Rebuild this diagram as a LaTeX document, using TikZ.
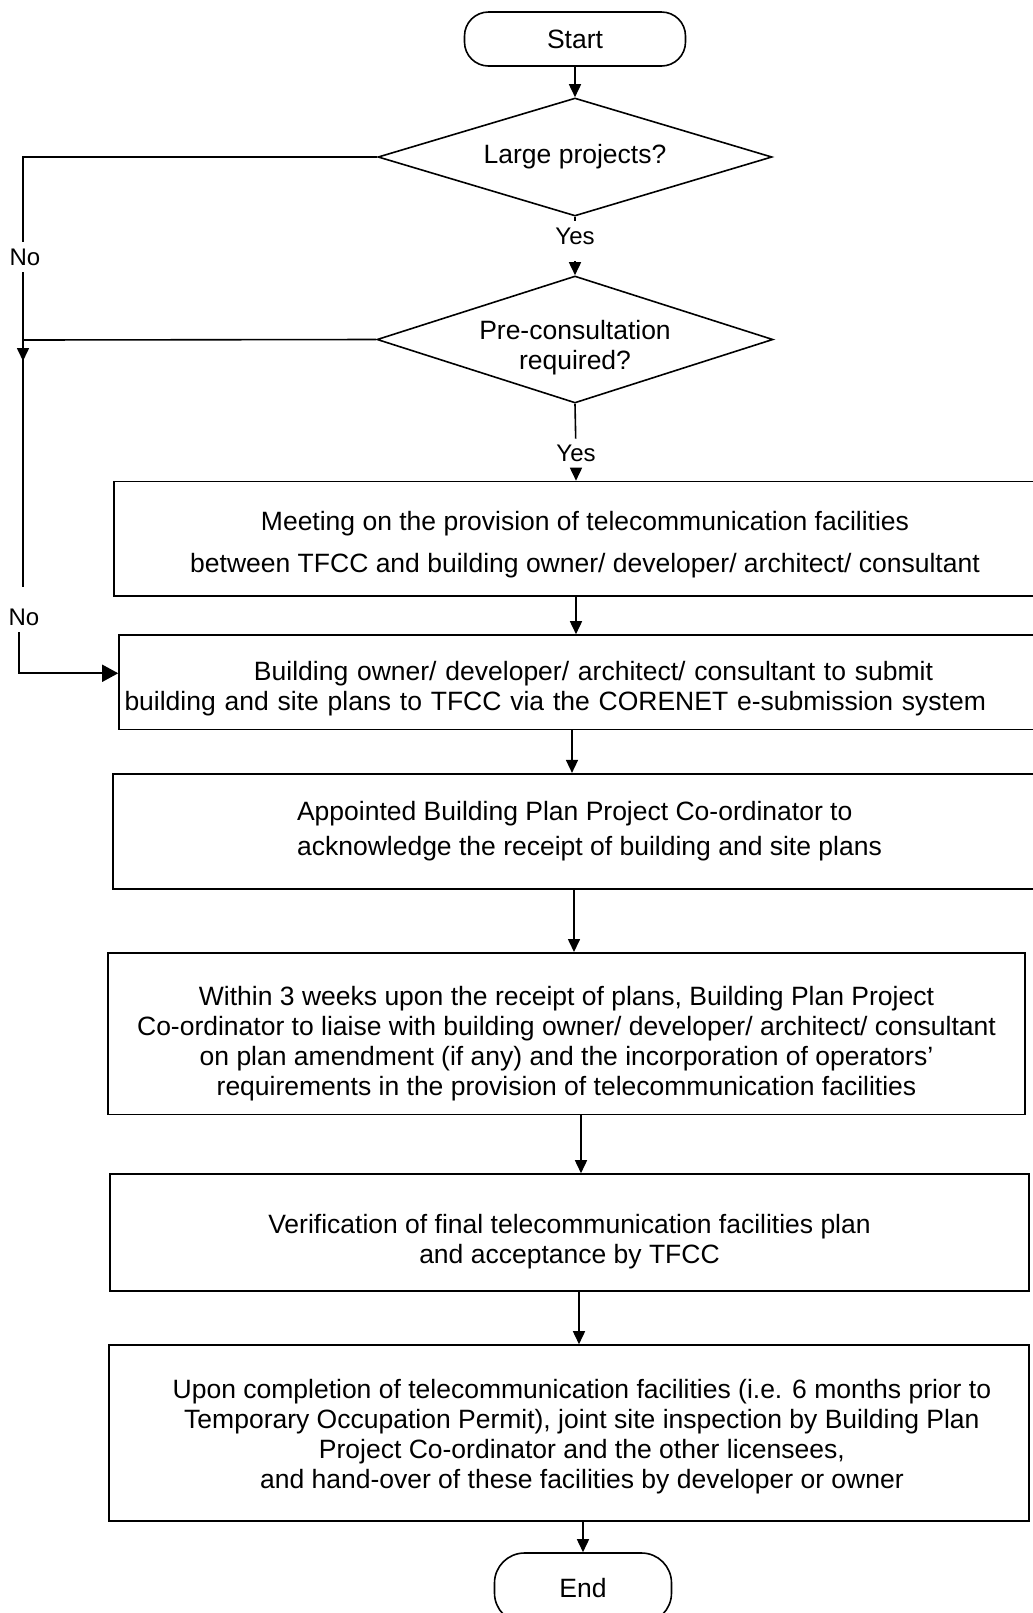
\documentclass[tikz,border=0pt]{standalone}
\usepackage{fontspec}
\setmainfont{Liberation Sans}
\usetikzlibrary{arrows.meta,positioning,shapes.geometric}

\begin{document}
\begin{tikzpicture}[x=0.5pt,y=-0.5pt,font=\fontsize{13.25}{15}\selectfont,
    line width=0.8pt,>={Triangle[length=6.5pt,width=6pt]},
    terminal/.style={draw,rounded corners=12pt,inner sep=0pt},
    decision/.style={draw,diamond,aspect=3.2,inner sep=0pt,align=center},
    process/.style={draw,inner sep=0pt},
    lbl/.style={font=\fontsize{12}{14}\selectfont,inner sep=3pt}]
  \useasboundingbox (0,0) rectangle (1033,1613);

  \node[terminal,minimum width=110.5pt,minimum height=27pt] (start) at (575,39) {Start};
  \node[decision,minimum width=197pt,minimum height=59pt] (large) at (575,157) {Large projects?};
  \node[lbl] (yes1) at (575,236) {Yes};
  \node[decision,minimum width=198pt,minimum height=63.5pt,inner ysep=-4.1pt] (precon) at (575,339.5)
    {\rule{0pt}{17.9pt}Pre-consultation\\required?};
  \node[lbl] (yes2) at (576,453.7) {Yes};

  \node[process,minimum width=471pt,minimum height=57.25pt,align=center] (meet) at (585,538.75)
    {\rule{0pt}{15.4pt}Meeting on the provision of telecommunication facilities\\[6pt]
     between TFCC and building owner/ developer/ architect/ consultant};
  \node[process,minimum width=463pt,minimum height=47.25pt,text width=457.5pt,align=left] (submit) at (582,682.25)
    {\rule{0pt}{15.9pt}\hspace*{64.75pt}Building owner/ developer/ architect/ consultant to submit\\
     building and site plans to TFCC via the CORENET e-submission system};
  \node[process,minimum width=476.5pt,minimum height=57.65pt,align=left] (ack) at (589.5,831.35)
    {Appointed Building Plan Project Co-ordinator to\\[2.5pt]
     acknowledge the receipt of building and site plans};
  \node[process,minimum width=458.5pt,minimum height=80.75pt,align=center] (liaise) at (566.5,1033.55)
    {\rule{0pt}{20pt}Within 3 weeks upon the receipt of plans, Building Plan Project\\
     Co-ordinator to liaise with building owner/ developer/ architect/ consultant\\
     on plan amendment (if any) and the incorporation of operators’\\
     requirements in the provision of telecommunication facilities};
  \node[process,minimum width=459.5pt,minimum height=58.5pt,align=center] (verify) at (569.5,1232.5)
    {\rule{0pt}{19pt}Verification of final telecommunication facilities plan\\
     and acceptance by TFCC};
  \node[process,minimum width=460pt,minimum height=87.85pt,align=center] (handover) at (569,1432.85)
    {\rule{0pt}{13.3pt}\hspace*{12.9pt}Upon completion of telecommunication facilities (i.e. 6 months prior to\\
     \hspace*{12.9pt}Temporary Occupation Permit), joint site inspection by Building Plan\\
     \hspace*{12.9pt}Project Co-ordinator and the other licensees,\\
     \hspace*{12.9pt}and hand-over of these facilities by developer or owner};
  \node[terminal,minimum width=88.5pt,minimum height=35pt,rounded corners=15pt] (end) at (583,1588) {End};

  % main flow
  \draw[->] (start) -- (large);
  \draw (large.south) -- (yes1);
  \draw[->,shorten <=5pt] (yes1) -- (precon);
  \draw (precon.south) -- (yes2);
  \draw[->] (yes2) -- (meet.north -| yes2);
  \coordinate (a1) at ([xshift=-4.5pt]meet.south);
  \coordinate (a2) at ([xshift=-5pt]submit.south);
  \coordinate (a3) at ([xshift=-7.75pt]ack.south);
  \coordinate (a4) at ([xshift=7.25pt]liaise.south);
  \coordinate (a5) at ([xshift=4.75pt]verify.south);
  \draw[->] (a1) -- (a1 |- submit.north);
  \draw[->] (a2) -- (a2 |- ack.north);
  \draw[->] (a3) -- (a3 |- liaise.north);
  \draw[->] (a4) -- (a4 |- verify.north);
  \draw[->] (a5) -- (a5 |- handover.north);
  \draw[->] (handover.south -| end) -- (end);

  % the two "No" branches
  \coordinate (jn) at (23,340);
  \node[lbl] (no1) at (25,257) {No};
  \node[lbl] (no2) at (24,617) {No};
  \coordinate (nobot) at ([yshift=7.5pt]no2.north);
  \draw (large.west) -- (large.west -| jn) -- (jn |- no1.north);
  \draw (jn |- no1.south) -- (jn) -- (jn |- nobot);
  \draw (precon.west) -- (jn);
  \draw[->] (jn) -- ++(0,21);
  \draw[-{Triangle[length=8pt,width=8.5pt]}] ([xshift=-2.5pt]no2.south) |- ([yshift=4.5pt]submit.west);
\end{tikzpicture}
\end{document}
